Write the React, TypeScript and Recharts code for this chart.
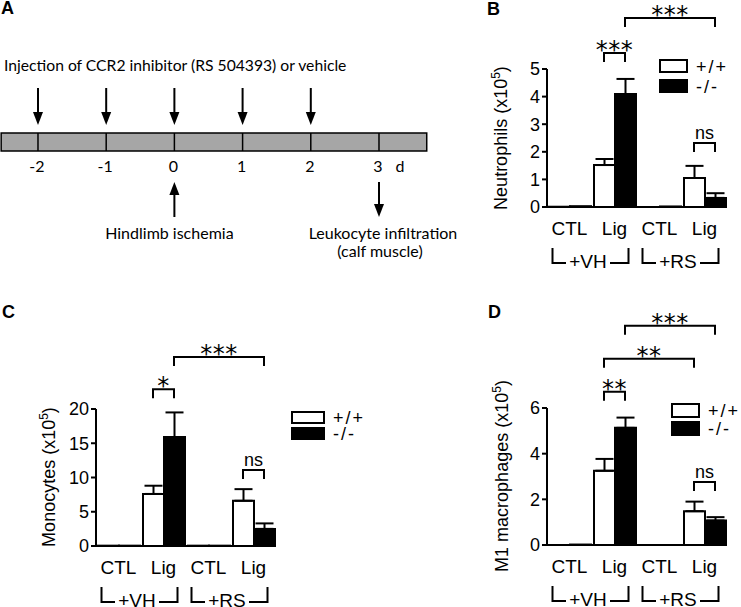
import React from "react";
import {
  Bar,
  BarChart,
  ComposedChart,
  ErrorBar,
  ReferenceArea,
  ReferenceLine,
  Scatter,
  XAxis,
  YAxis,
} from "recharts";

/**
 * CCR2 inhibitor figure: protocol timeline (A) and leukocyte counts in calf
 * muscle after hindlimb ischemia (B–D). Values are read off the original
 * figure, so treat them as approximations of the published means ± SEM.
 */

const FONT = '"Liberation Sans", Arial, Helvetica, sans-serif';
const TL_FONT = 'Lato, "Open Sans", sans-serif';
const STAR_FONT = '"DejaVu Sans", sans-serif';

// ---- panel A: protocol, in days
const DAYS = [-2, -1, 0, 1, 2, 3];
const INJECTION_DAYS = [-2, -1, 0, 1, 2];
const ISCHEMIA_DAYS = [0];
const HARVEST_DAYS = [3];
const TIMELINE_SPAN = [-2.54, 3.7];
const TIMELINE_DOMAIN = [-2.557, 4.481];
const TIMELINE_TITLE = "Injection of CCR2 inhibitor (RS 504393) or vehicle";

// ---- panels B–D
const CONDITIONS = ["CTL", "Lig", "CTL", "Lig"];
const TREATMENTS = ["+VH", "+RS"];
const GENOTYPES = ["+/+", "-/-"];

const NEUTRO_WT = [0.01, 1.52, 0.0, 1.05];
const NEUTRO_WT_SEM = [0, 0.22, 0, 0.44];
const NEUTRO_KO = [0.03, 4.09, 0.02, 0.33];
const NEUTRO_KO_SEM = [0, 0.55, 0, 0.17];

const MONO_WT = [0.05, 7.6, 0.05, 6.6];
const MONO_WT_SEM = [0, 1.2, 0, 1.7];
const MONO_KO = [0.05, 15.9, 0.05, 2.5];
const MONO_KO_SEM = [0, 3.6, 0, 0.8];

const M1_WT = [0.0, 3.25, 0.0, 1.48];
const M1_WT_SEM = [0, 0.52, 0, 0.42];
const M1_KO = [0.02, 5.13, 0.0, 1.07];
const M1_KO_SEM = [0, 0.45, 0, 0.15];

// significance brackets: [condition index, genotype index] -> [..], height in axis units
type Sig = { a: [number, number]; b: [number, number]; y: number; text: string };

const NEUTRO_SIG: Sig[] = [
  { a: [1, 0], b: [1, 1], y: 5.58, text: "***" },
  { a: [1, 1], b: [3, 1], y: 6.85, text: "***" },
  { a: [3, 0], b: [3, 1], y: 2.32, text: "ns" },
];
const MONO_SIG: Sig[] = [
  { a: [1, 0], b: [1, 1], y: 22.9, text: "*" },
  { a: [1, 1], b: [3, 1], y: 27.6, text: "***" },
  { a: [3, 0], b: [3, 1], y: 11.1, text: "ns" },
];
const M1_SIG: Sig[] = [
  { a: [1, 0], b: [1, 1], y: 6.71, text: "**" },
  { a: [1, 0], b: [3, 0], y: 8.16, text: "**" },
  { a: [1, 1], b: [3, 1], y: 9.6, text: "***" },
  { a: [3, 0], b: [3, 1], y: 2.76, text: "ns" },
];

// layout
const PLOT_W = 180;
const BAND = PLOT_W / CONDITIONS.length;
const BAR = 21;
const Y_AXIS_W = 30;
const X_AXIS_H = 66;
const TOP_ROOM = 105;

const condKey = (i: number) => `${CONDITIONS[i]}-${i}`;
// bars of a pair sit either side of the band centre
const genoOffset = (g: number) => (g === 0 ? -BAR / 2 : BAR / 2);

function Arrow({ x, tail, tip }: { x: number; tail: number; tip: number }) {
  const dir = Math.sign(tip - tail);
  const base = tip - dir * 13;
  return (
    <g>
      <line x1={x} x2={x} y1={tail} y2={base} stroke="#000" strokeWidth={2} />
      <polygon points={`${x},${tip} ${x - 5},${base} ${x + 5},${base}`} fill="#000" />
    </g>
  );
}

function DayTick(props: any) {
  const { cx, cy, payload } = props;
  const last = payload.day === DAYS[DAYS.length - 1];
  return (
    <g fontFamily={TL_FONT} fontSize={16} fill="#000">
      <line x1={cx} x2={cx} y1={cy - 9} y2={cy + 9} stroke="#000" strokeWidth={1.5} />
      <text x={cx - 1} y={cy + 30} textAnchor="middle">
        {payload.day}
      </text>
      {last && (
        <text x={cx + 21} y={cy + 30} textAnchor="middle">
          d
        </text>
      )}
    </g>
  );
}

function InjectionArrow(props: any) {
  const { cx, cy } = props;
  return <Arrow x={cx} tail={cy - 54} tip={cy - 17} />;
}

function IschemiaMark(props: any) {
  const { cx, cy } = props;
  return (
    <g>
      <Arrow x={cx} tail={cy + 75} tip={cy + 40} />
      <text x={cx - 5} y={cy + 97} textAnchor="middle" fontFamily={TL_FONT} fontSize={16}>
        Hindlimb ischemia
      </text>
    </g>
  );
}

function HarvestMark(props: any) {
  const { cx, cy } = props;
  return (
    <g fontFamily={TL_FONT} fontSize={16}>
      <Arrow x={cx} tail={cy + 40} tip={cy + 75} />
      <text x={cx + 4} y={cy + 97} textAnchor="middle">
        Leukocyte infiltration
      </text>
      <text x={cx + 1} y={cy + 115} textAnchor="middle">
        (calf muscle)
      </text>
    </g>
  );
}

function TimelinePanel() {
  return (
    <div style={{ position: "absolute", left: 0, top: 12 }}>
      <ComposedChart width={480} height={260} margin={{ top: 0, right: 0, bottom: 0, left: 0 }}>
        <XAxis type="number" dataKey="day" domain={TIMELINE_DOMAIN} hide allowDataOverflow />
        <YAxis type="number" dataKey="y" domain={[-1, 1]} hide allowDataOverflow />
        <ReferenceArea
          x1={TIMELINE_SPAN[0]}
          x2={TIMELINE_SPAN[1]}
          y1={-0.069}
          y2={0.069}
          fill="#a6a6a6"
          fillOpacity={1}
          stroke="#000"
          strokeWidth={1.5}
          ifOverflow="visible"
        />
        <Scatter data={DAYS.map((day) => ({ day, y: 0 }))} shape={DayTick} isAnimationActive={false} />
        <Scatter
          data={INJECTION_DAYS.map((day) => ({ day, y: 0 }))}
          shape={InjectionArrow}
          isAnimationActive={false}
        />
        <Scatter
          data={ISCHEMIA_DAYS.map((day) => ({ day, y: 0 }))}
          shape={IschemiaMark}
          isAnimationActive={false}
        />
        <Scatter
          data={HARVEST_DAYS.map((day) => ({ day, y: 0 }))}
          shape={HarvestMark}
          isAnimationActive={false}
        />
      </ComposedChart>
    </div>
  );
}

function CategoryTick(props: any) {
  const { x, y, payload } = props;
  const index = payload?.index ?? props.index ?? 0;
  const start = index % 2 === 0;
  const left = x - 17;
  const right = x + BAND + 14;
  const mid = x + BAND / 2 - 4;
  return (
    <g fontFamily={FONT} fontSize={19} fill="#000">
      <text x={x} y={y + 28} textAnchor="middle">
        {CONDITIONS[index]}
      </text>
      {start && (
        <g>
          <path
            d={`M${left},${y + 41} V${y + 56} H${mid - 22} M${mid + 22},${y + 56} H${right} V${y + 41}`}
            stroke="#000"
            strokeWidth={2}
            fill="none"
          />
          <text x={mid} y={y + 61} textAnchor="middle">
            {TREATMENTS[index / 2]}
          </text>
        </g>
      )}
    </g>
  );
}

function Bracket(props: any) {
  const { x1, x2, y1, dx1, dx2, text } = props;
  const a = x1 + dx1;
  const b = x2 + dx2;
  const stars = text !== "ns";
  return (
    <g>
      <path d={`M${a},${y1 + 9} V${y1} H${b} V${y1 + 9}`} stroke="#000" strokeWidth={2} fill="none" />
      <text
        x={(a + b) / 2}
        y={stars ? y1 + 5 : y1 - 4}
        textAnchor="middle"
        fontFamily={stars ? STAR_FONT : FONT}
        fontSize={stars ? 24 : 18}
        letterSpacing={stars ? 0.5 : 0}
        style={{ fill: "#000", stroke: "none" }}
      >
        {text}
      </text>
    </g>
  );
}

interface BarPanelProps {
  plotLeft: number;
  plotTop: number;
  plotBottom: number;
  wt: number[];
  wtSem: number[];
  ko: number[];
  koSem: number[];
  yMax: number;
  yTicks: number[];
  sig: Sig[];
}

function BarPanel({ plotLeft, plotTop, plotBottom, wt, wtSem, ko, koSem, yMax, yTicks, sig }: BarPanelProps) {
  const left = plotLeft - Y_AXIS_W - 80;
  const top = plotTop - TOP_ROOM;
  const width = 80 + Y_AXIS_W + PLOT_W + 14;
  const height = TOP_ROOM + (plotBottom - plotTop) + X_AXIS_H;

  const rows = CONDITIONS.map((_, i) => ({
    key: condKey(i),
    wt: wt[i],
    wtErr: wtSem[i] ? [0, wtSem[i]] : null,
    ko: ko[i],
    koErr: koSem[i] ? [0, koSem[i]] : null,
  }));

  return (
    <div style={{ position: "absolute", left, top }}>
      <BarChart
        width={width}
        height={height}
        data={rows}
        barGap={0}
        margin={{ top: TOP_ROOM, right: 14, bottom: 0, left: 80 }}
      >
        <XAxis
          dataKey="key"
          height={X_AXIS_H}
          axisLine={{ stroke: "#000", strokeWidth: 2 }}
          tickLine={false}
          tickSize={0}
          tickMargin={0}
          interval={0}
          tick={(p: any) => <CategoryTick {...p} />}
        />
        <YAxis
          type="number"
          domain={[0, yMax]}
          ticks={yTicks}
          interval={0}
          width={Y_AXIS_W}
          allowDataOverflow
          axisLine={{ stroke: "#000", strokeWidth: 2 }}
          tickLine={{ stroke: "#000", strokeWidth: 2 }}
          tickSize={5}
          tickMargin={2}
          tick={{ fill: "#000", fontSize: 18, fontFamily: FONT }}
        />
        <Bar dataKey="wt" fill="#fff" stroke="#000" strokeWidth={2} barSize={BAR} isAnimationActive={false}>
          <ErrorBar dataKey="wtErr" direction="y" width={9} stroke="#000" strokeWidth={2} />
        </Bar>
        <Bar dataKey="ko" fill="#000" stroke="#000" strokeWidth={2} barSize={BAR} isAnimationActive={false}>
          <ErrorBar dataKey="koErr" direction="y" width={9} stroke="#000" strokeWidth={2} />
        </Bar>
        {sig.map((s, i) => (
          <ReferenceLine
            key={i}
            ifOverflow="visible"
            segment={[
              { x: condKey(s.a[0]), y: s.y },
              { x: condKey(s.b[0]), y: s.y },
            ]}
            shape={(p: any) => (
              <Bracket {...p} dx1={genoOffset(s.a[1])} dx2={genoOffset(s.b[1])} text={s.text} />
            )}
          />
        ))}
      </BarChart>
    </div>
  );
}

function Legend({ x, y, w, h, step }: { x: number; y: number; w: number; h: number; step: number }) {
  const fills = ["#fff", "#000"];
  return (
    <g fontFamily={FONT} fontSize={18} letterSpacing={2}>
      {GENOTYPES.map((g, i) => (
        <g key={g}>
          <rect x={x} y={y + i * step} width={w} height={h} fill={fills[i]} stroke="#000" strokeWidth={2} />
          <text x={x + w + 9} y={y + i * step + h / 2 + 6.5}>
            {g}
          </text>
        </g>
      ))}
    </g>
  );
}

function YLabel({ x, y, text }: { x: number; y: number; text: string }) {
  return (
    <text
      x={x}
      y={y}
      transform={`rotate(-90 ${x} ${y})`}
      textAnchor="middle"
      fontFamily={FONT}
      fontSize={18}
    >
      {text} (x10
      <tspan dy={-7} fontSize={12}>
        5
      </tspan>
      <tspan dy={7}>)</tspan>
    </text>
  );
}

export default function App() {
  return (
    <div
      style={{
        position: "absolute",
        left: 0,
        top: 0,
        width: 741,
        height: 607,
        background: "#fff",
        overflow: "hidden",
      }}
    >
      <svg width={741} height={607} style={{ position: "absolute", left: 0, top: 0 }}>
        <g fontFamily={FONT} fontSize={18} fontWeight="bold">
          <text x={1} y={14}>A</text>
          <text x={487} y={15}>B</text>
          <text x={2} y={318}>C</text>
          <text x={488} y={318}>D</text>
        </g>
        <text x={4} y={71} fontFamily={TL_FONT} fontSize={15.7}>
          {TIMELINE_TITLE}
        </text>
        <YLabel x={507} y={138} text="Neutrophils" />
        <YLabel x={55} y={477} text="Monocytes" />
        <YLabel x={508} y={476} text="M1 macrophages" />
        <Legend x={660} y={60} w={27} h={12} step={20} />
        <Legend x={292} y={412} w={32} h={11} step={16} />
        <Legend x={672} y={404} w={27} h={13} step={18} />
      </svg>
      <TimelinePanel />
      <BarPanel
        plotLeft={547}
        plotTop={69}
        plotBottom={207}
        wt={NEUTRO_WT}
        wtSem={NEUTRO_WT_SEM}
        ko={NEUTRO_KO}
        koSem={NEUTRO_KO_SEM}
        yMax={5}
        yTicks={[0, 1, 2, 3, 4, 5]}
        sig={NEUTRO_SIG}
      />
      <BarPanel
        plotLeft={96}
        plotTop={409}
        plotBottom={546}
        wt={MONO_WT}
        wtSem={MONO_WT_SEM}
        ko={MONO_KO}
        koSem={MONO_KO_SEM}
        yMax={20}
        yTicks={[0, 5, 10, 15, 20]}
        sig={MONO_SIG}
      />
      <BarPanel
        plotLeft={547}
        plotTop={408}
        plotBottom={545}
        wt={M1_WT}
        wtSem={M1_WT_SEM}
        ko={M1_KO}
        koSem={M1_KO_SEM}
        yMax={6}
        yTicks={[0, 2, 4, 6]}
        sig={M1_SIG}
      />
    </div>
  );
}
